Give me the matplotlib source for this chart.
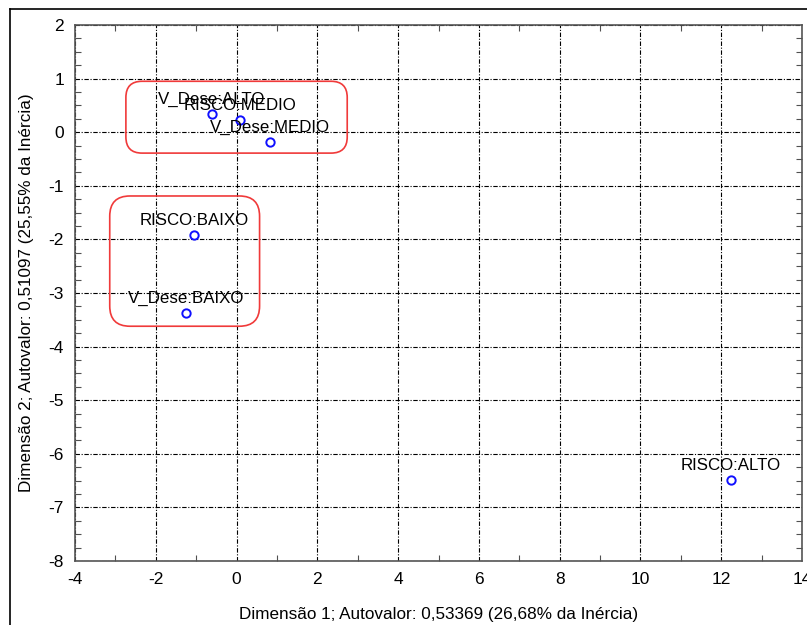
import matplotlib
matplotlib.use("Agg")
import matplotlib.pyplot as plt
from matplotlib.patches import FancyBboxPatch
from matplotlib.lines import Line2D
from matplotlib.ticker import MultipleLocator

plt.rcParams['font.family'] = ['Liberation Sans', 'DejaVu Sans']
plt.rcParams['axes.unicode_minus'] = False

# Coordinates of the categories in the first two dimensions
labels = ["V_Dese:ALTO", "RISCO:MEDIO", "V_Dese:MEDIO",
          "RISCO:BAIXO", "V_Dese:BAIXO", "RISCO:ALTO"]
dim1 = [-0.61, 0.08, 0.82, -1.06, -1.25, 12.23]
dim2 = [0.34, 0.22, -0.18, -1.91, -3.38, -6.49]

xlabel = "Dimensão 1; Autovalor: 0,53369 (26,68% da Inércia)"
ylabel = "Dimensão 2; Autovalor: 0,51097 (25,55% da Inércia)"

fig = plt.figure(figsize=(8.07, 6.25), dpi=100)
ax = fig.add_axes([75 / 807, 1 - 561 / 625, (802 - 75) / 807, (561 - 25) / 625])

ax.set_xlim(-4, 14)
ax.set_ylim(-8, 2)
ax.xaxis.set_major_locator(MultipleLocator(2))
ax.xaxis.set_minor_locator(MultipleLocator(1))
ax.yaxis.set_major_locator(MultipleLocator(1))
ax.yaxis.set_minor_locator(MultipleLocator(0.25))

ax.grid(True, which='major', color='black', linewidth=0.8,
        linestyle=(0, (4, 1.5, 1, 1.5)))
ax.set_axisbelow(True)

ax.tick_params(which='both', direction='in', top=True, right=True,
               labelsize=12.5, colors='#505050', labelcolor='black')
ax.tick_params(which='major', length=0, pad=8)
ax.tick_params(which='minor', length=4, width=0.8)
for s in ax.spines.values():
    s.set_color('#555555')
    s.set_linewidth(1.2)

ax.plot(dim1, dim2, linestyle='none', marker='o', markersize=6,
        markerfacecolor='white', markeredgecolor='#1010ff', markeredgewidth=1.4,
        zorder=3)

for lab, x, y in zip(labels, dim1, dim2):
    ax.annotate(lab, (x, y), xytext=(0, 5), textcoords='offset points',
                ha='center', va='bottom', fontsize=12.2, zorder=4)

# Rounded groupings of the upper and lower clusters
aspect = (53.6 / 40.4) ** -1
for (x0, y0, x1, y1, r) in [(-2.74, -0.39, 2.74, 0.95, 0.4),
                            (-3.14, -3.62, 0.57, -1.19, 0.5)]:
    box = FancyBboxPatch((x0 + r, y0 + r * aspect), (x1 - x0) - 2 * r,
                         (y1 - y0) - 2 * r * aspect,
                         boxstyle=f"round,pad={r},rounding_size={r}",
                         mutation_aspect=aspect, fill=False,
                         edgecolor='#f03a3a', linewidth=1.2, zorder=2,
                         transform=ax.transData)
    ax.add_patch(box)

ax.set_xlabel(xlabel, fontsize=12.3, labelpad=14)
ax.set_ylabel(ylabel, fontsize=12.3, labelpad=10)

# Outer frame lines on the left and top of the figure
fig.add_artist(Line2D([10 / 807, 10 / 807], [0, 1 - 9 / 625],
                      transform=fig.transFigure, color='black', linewidth=1.2))
fig.add_artist(Line2D([10 / 807, 1], [1 - 9 / 625, 1 - 9 / 625],
                      transform=fig.transFigure, color='black', linewidth=1.2))

fig.savefig("out.png", dpi=100)
